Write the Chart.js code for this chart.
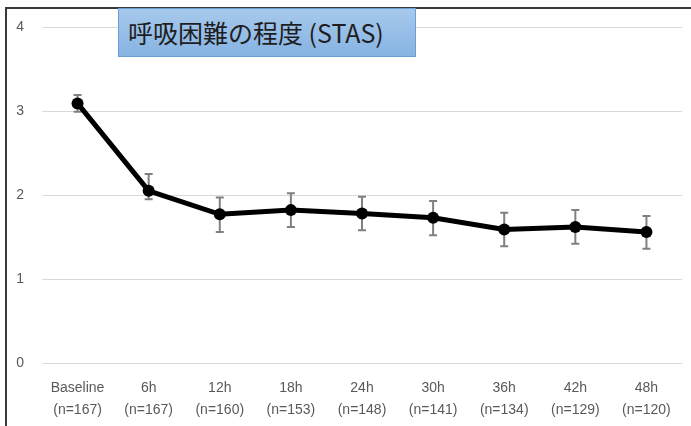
<!DOCTYPE html>
<html><head><meta charset="utf-8">
<script src="https://cdn.jsdelivr.net/npm/chart.js@4"></script>
<style>
html,body{margin:0;padding:0;background:#fff;width:691px;height:426px;overflow:hidden;}
#wrap{position:relative;width:691px;height:426px;}
#frame{position:absolute;left:5px;top:7px;width:700px;height:440px;border:2px solid #3a3a3a;box-sizing:border-box;pointer-events:none;}
#title{position:absolute;left:118px;top:8px;width:298px;height:49px;box-sizing:border-box;border:1px solid #6a9fd6;
background:linear-gradient(#a7c9ec,#86b3e2);font-family:"Noto Sans CJK JP","Noto Sans",sans-serif;font-size:25px;color:#1e1e1e;
line-height:47px;padding-left:9px;white-space:nowrap;}
canvas{position:absolute;left:0;top:0;}
</style></head>
<body><div id="wrap"><canvas id="c" width="691" height="426"></canvas><div id="frame"></div><div id="title">呼吸困難の程度 (STAS)</div></div>
<script>
const categories = ['Baseline','6h','12h','18h','24h','30h','36h','42h','48h'];
const nLabels = ['(n=167)','(n=167)','(n=160)','(n=153)','(n=148)','(n=141)','(n=134)','(n=129)','(n=120)'];
const means = [3.09, 2.05, 1.77, 1.82, 1.78, 1.73, 1.59, 1.62, 1.56];
const upper = [3.19, 2.25, 1.97, 2.02, 1.98, 1.93, 1.79, 1.82, 1.75];
const lower = [2.99, 1.95, 1.56, 1.62, 1.58, 1.52, 1.39, 1.42, 1.36];
const yTicks = [0,1,2,3,4];

const errorBars = {
  id:'errorBars',
  beforeDatasetsDraw(chart){
    const ctx = chart.ctx, xs = chart.scales.x, ys = chart.scales.y;
    ctx.save();
    ctx.strokeStyle = '#808080'; ctx.lineWidth = 2;
    for (let i=0;i<means.length;i++){
      const x = xs.getPixelForValue(i);
      const yt = ys.getPixelForValue(upper[i]);
      const yb = ys.getPixelForValue(lower[i]);
      ctx.beginPath();
      ctx.moveTo(x,yt); ctx.lineTo(x,yb);
      ctx.moveTo(x-4,yt); ctx.lineTo(x+4,yt);
      ctx.moveTo(x-4,yb); ctx.lineTo(x+4,yb);
      ctx.stroke();
    }
    ctx.restore();
  }
};

const fontFam = '"Liberation Sans Narrow","Liberation Sans",sans-serif';
new Chart(document.getElementById('c'),{
  type:'line',
  data:{labels:categories.map((c,i)=>[c,nLabels[i]]),
    datasets:[{data:means,borderColor:'#000',backgroundColor:'#000',borderWidth:5,pointRadius:6,pointBackgroundColor:'#000',pointBorderWidth:0,tension:0}]},
  options:{responsive:false,animation:false,
    layout:{padding:{left:6,right:9,top:27,bottom:0}},
    plugins:{legend:{display:false},tooltip:{enabled:false},title:{display:false}},
    scales:{
      x:{offset:true,grid:{display:false},border:{display:false},
        ticks:{color:'#595959',font:{family:fontFam,size:14,lineHeight:1.57},padding:6,maxRotation:0,autoSkip:false},
        afterFit(s){s.height=63;}},
      y:{min:0,max:4,afterBuildTicks(s){s.ticks=yTicks.map(v=>({value:v}));},
        grid:{color:'#d9d9d9',lineWidth:1,drawTicks:false},border:{display:false},
        ticks:{color:'#595959',font:{family:fontFam,size:14},padding:18},
        afterFit(s){s.width=36;}}
    }},
  plugins:[errorBars]
});
</script></body></html>
